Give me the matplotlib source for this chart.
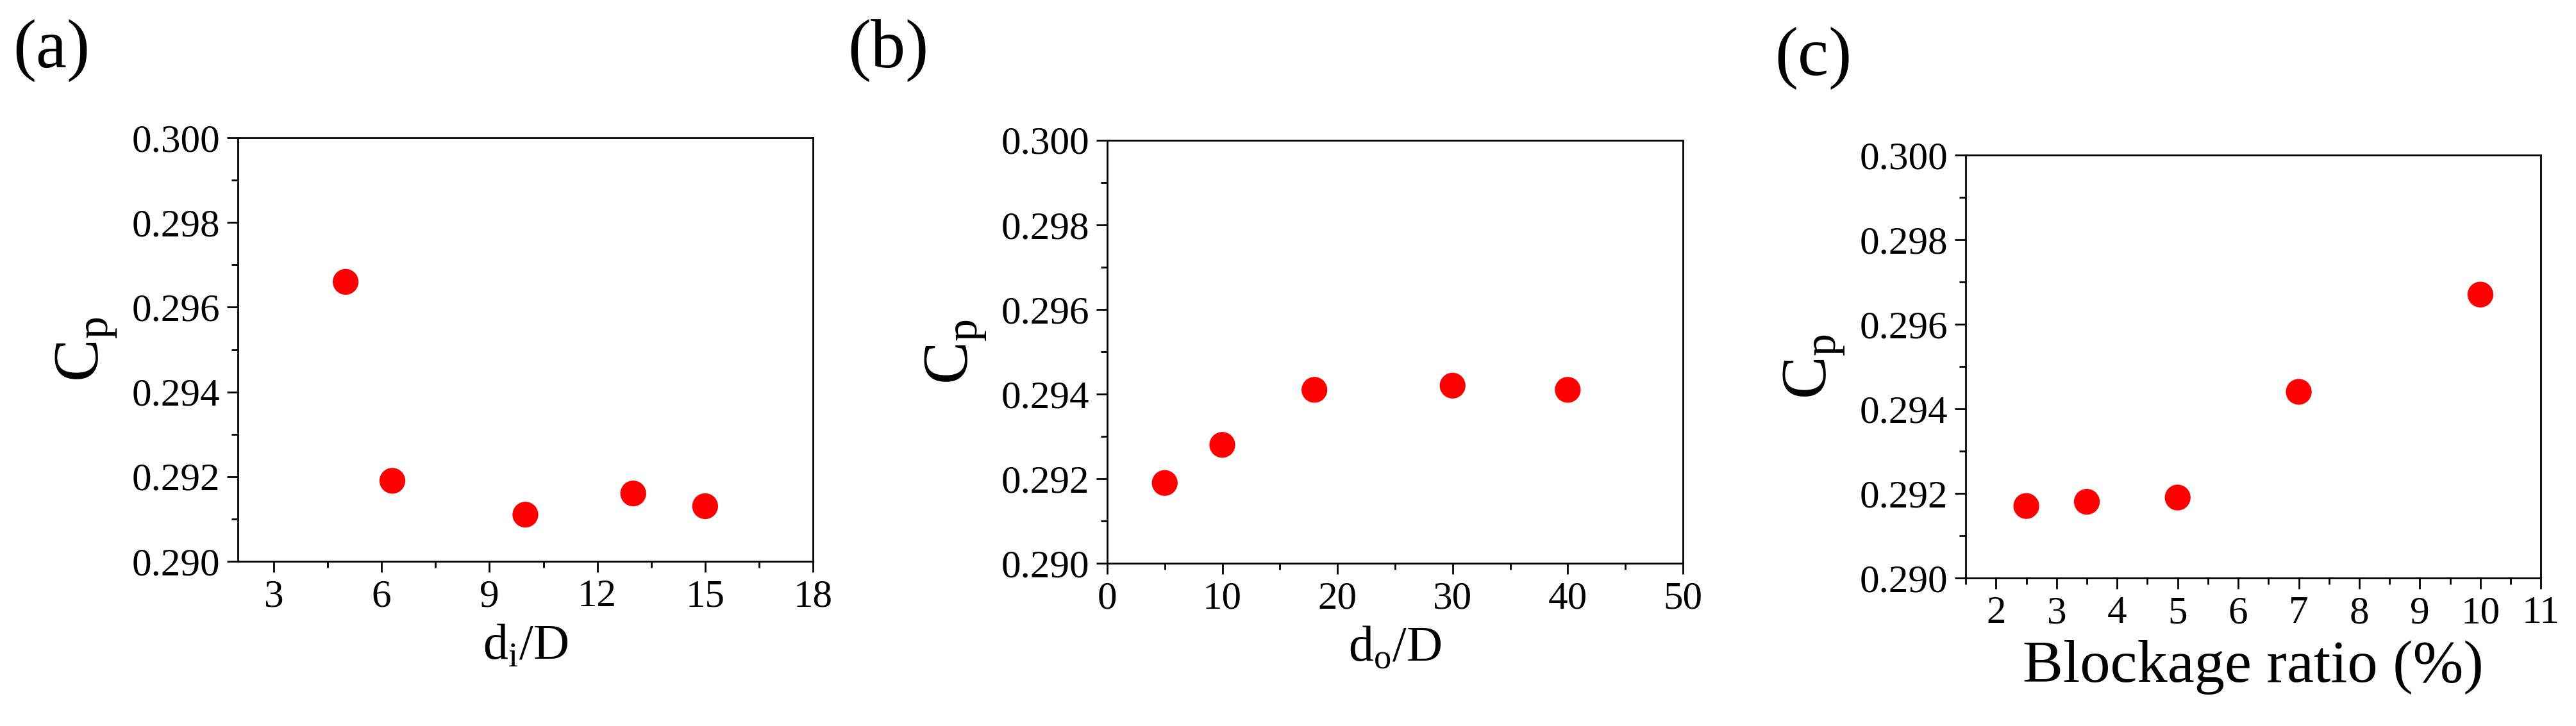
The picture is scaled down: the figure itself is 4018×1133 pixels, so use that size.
import matplotlib.pyplot as plt
from matplotlib.ticker import MultipleLocator, FormatStrFormatter

plt.rcParams['font.family'] = ['Liberation Serif', 'DejaVu Serif']
plt.rcParams['mathtext.fontset'] = 'custom'
plt.rcParams['mathtext.rm'] = 'Liberation Serif'

# panel (a)
di_D = [5, 6.3, 10, 13, 15]
cp_a = [0.2966, 0.2919, 0.2911, 0.2916, 0.2913]
# panel (b)
do_D = [5, 10, 18, 30, 40]
cp_b = [0.2919, 0.2928, 0.2941, 0.2942, 0.2941]
# panel (c)
blockage = [2.5, 3.5, 5, 7, 10]
cp_c = [0.2917, 0.2918, 0.2919, 0.2944, 0.2967]

fig = plt.figure(figsize=(40.18, 11.33), dpi=100)

panels = [
    ([0.0923, 0.227, 0.2233, 0.583], di_D, cp_a, (2, 18), 3, r'd$_\mathregular{i}$/D', 56, '(a)', 0.005, 0.93),
    ([0.4298, 0.224, 0.2235, 0.583], do_D, cp_b, (0, 50), 10, r'd$_\mathregular{o}$/D', 56, '(b)', 0.329, 0.93),
    ([0.7631, 0.204, 0.2233, 0.5825], blockage, cp_c, (1.5, 11), 1, 'Blockage ratio (%)', 68, '(c)', 0.689, 0.92),
]

for rect, x, y, xlim, xstep, xlabel, xls, tag, tx, ty in panels:
    ax = fig.add_axes(rect)
    ax.scatter(x, y, s=29 ** 2, color='#ff0000', edgecolors='none', zorder=3)
    ax.set_xlim(*xlim)
    ax.set_ylim(0.290, 0.300)
    ax.xaxis.set_major_locator(MultipleLocator(xstep))
    ax.xaxis.set_minor_locator(MultipleLocator(xstep / 2))
    ax.yaxis.set_major_locator(MultipleLocator(0.002))
    ax.yaxis.set_minor_locator(MultipleLocator(0.001))
    ax.yaxis.set_major_formatter(FormatStrFormatter('%.3f'))
    for s in ax.spines.values():
        s.set_linewidth(2)
    ax.tick_params(which='major', direction='out', length=12, width=2, labelsize=44, pad=8)
    ax.tick_params(which='minor', direction='out', length=7, width=2)
    ax.set_xlabel(xlabel, fontsize=xls, labelpad=10)
    ax.set_ylabel(r'C$_\mathregular{p}$', fontsize=72, labelpad=14)
    fig.text(tx, ty, tag, fontsize=78, ha='left', va='center')

fig.savefig('out.png', dpi=100)
